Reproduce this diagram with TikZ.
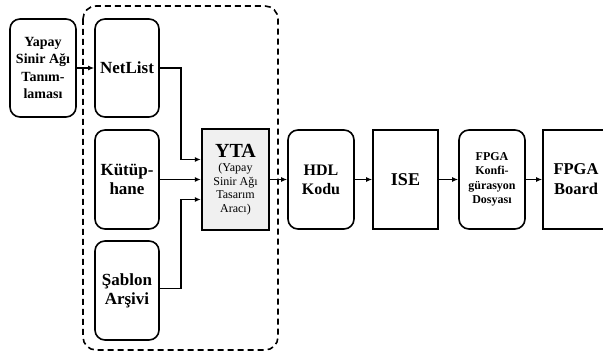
\documentclass[tikz,border=0pt]{standalone}
\usepackage{fontspec}
\setmainfont{Liberation Serif}
\usetikzlibrary{arrows.meta}
\begin{document}
\begin{tikzpicture}[x=1pt,y=-1pt,
  blk/.style={draw,line width=1.6pt,inner sep=0pt,align=center,font=\bfseries},
  rblk/.style={blk,rounded corners=10pt},
  conn/.style={line width=1.5pt,-{Latex[length=6pt,width=5pt]}}]
\useasboundingbox (0,0) rectangle (603,352);
\draw[line width=1.6pt,dash pattern=on 6pt off 4pt,rounded corners=13pt] (83,6) rectangle (278,350);
\node[rblk,minimum width=66pt,minimum height=98pt,font=\bfseries\fontsize{14}{17.5}\selectfont] (def) at (43,68) {Yapay\\Sinir Ağı\\Tanım-\\laması};
\node[rblk,minimum width=64pt,minimum height=98pt,font=\bfseries\fontsize{17}{19}\selectfont] (net) at (127,68) {NetList};
\node[rblk,minimum width=64pt,minimum height=99pt,font=\bfseries\fontsize{17}{19}\selectfont] (kut) at (127,179.5) {Kütüp-\\hane};
\node[rblk,minimum width=64pt,minimum height=99pt,font=\bfseries\fontsize{17}{19}\selectfont] (sab) at (127,290.5) {Şablon\\Arşivi};
\node[draw,line width=2.4pt,fill=black!6,inner sep=0pt,minimum width=67pt,minimum height=101pt] (yta) at (235.5,179.5)
  {\begin{minipage}{60pt}\centering\bfseries\fontsize{20}{22}\selectfont YTA\par\vspace{1pt}
   \normalfont\fontsize{12}{13.5}\selectfont (Yapay\\Sinir Ağı\\Tasarım\\Aracı)\end{minipage}};
\node[rblk,minimum width=66pt,minimum height=99pt,font=\bfseries\fontsize{16}{19}\selectfont] (hdl) at (321,179.5) {HDL\\Kodu};
\node[blk,minimum width=65pt,minimum height=99pt,font=\bfseries\fontsize{18}{20}\selectfont] (ise) at (405.5,179.5) {ISE};
\node[rblk,minimum width=66pt,minimum height=99pt,font=\bfseries\fontsize{12}{14.5}\selectfont] (fpk) at (492,179.5) {FPGA\\Konfi-\\gürasyon\\Dosyası};
\node[blk,minimum width=66pt,minimum height=99pt,font=\bfseries\fontsize{16.5}{20}\selectfont] (fpb) at (576,179.5) {FPGA\\Board};
\draw[conn] (def.east) -- (net.west);
\draw[conn] (net.east) -- ++(21,0) |- ([yshift=20pt]yta.west);
\draw[conn] (kut.east) -- (yta.west);
\draw[conn] ([yshift=2pt]sab.east) -- ++(21,0) |- ([yshift=-20pt]yta.west);
\draw[conn] (yta.east) -- (hdl.west);
\draw[conn] (hdl.east) -- (ise.west);
\draw[conn] (ise.east) -- (fpk.west);
\draw[conn] (fpk.east) -- (fpb.west);
\end{tikzpicture}
\end{document}
